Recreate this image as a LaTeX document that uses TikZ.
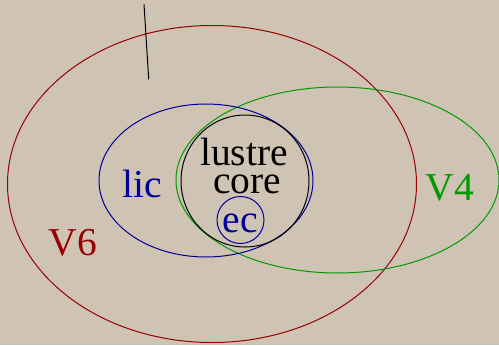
\documentclass[tikz,border=0pt]{standalone}
\usepackage{fontspec}
\setmainfont{Liberation Serif}
\definecolor{bgtan}{RGB}{207,195,180}
\definecolor{vsixred}{RGB}{153,0,0}
\definecolor{licblue}{RGB}{0,0,153}
\definecolor{vfourgreen}{RGB}{0,153,0}
\tikzset{
    setline/.style={
        line width=1bp
    },
    setlabel/.style={
        anchor=base,
        inner sep=0pt,
        font=\fontsize{39.5bp}{40bp}\selectfont
    }
}
\begin{document}
\begin{tikzpicture}[x=1bp,y=1bp]
    \useasboundingbox (0,0) rectangle (499,345);
    \fill[bgtan] (0,0) rectangle (499,345);

    % the sets
    \draw[setline, vsixred] (212,161) ellipse [x radius=204.5, y radius=158.5];
    \draw[setline, vfourgreen] (337.5,165) ellipse [x radius=161.5, y radius=93];
    \draw[setline, licblue] (206,164.5) ellipse [x radius=107, y radius=76.5];
    \draw[setline, black] (245,164) ellipse [x radius=64, y radius=66];
    \draw[setline, licblue] (240.5,125) circle [radius=23.5];

    \draw[setline, black] (144,340.7) -- (148.7,265.7);

    % labels
    \node[setlabel, black] (lustre) at (244,179.3) {lustre};
    \node[setlabel, black] (core) at (247,151.7) {core};
    \node[setlabel, licblue] (lic) at (142.5,147.3) {lic};
    \node[setlabel, vsixred] (vsix) at (73,89.7) {V6};
    \node[setlabel, vfourgreen] (vfour) at (450,145) {V4};
    \node[setlabel, licblue] (ec) at (240,112.7) {ec};
\end{tikzpicture}
\end{document}
